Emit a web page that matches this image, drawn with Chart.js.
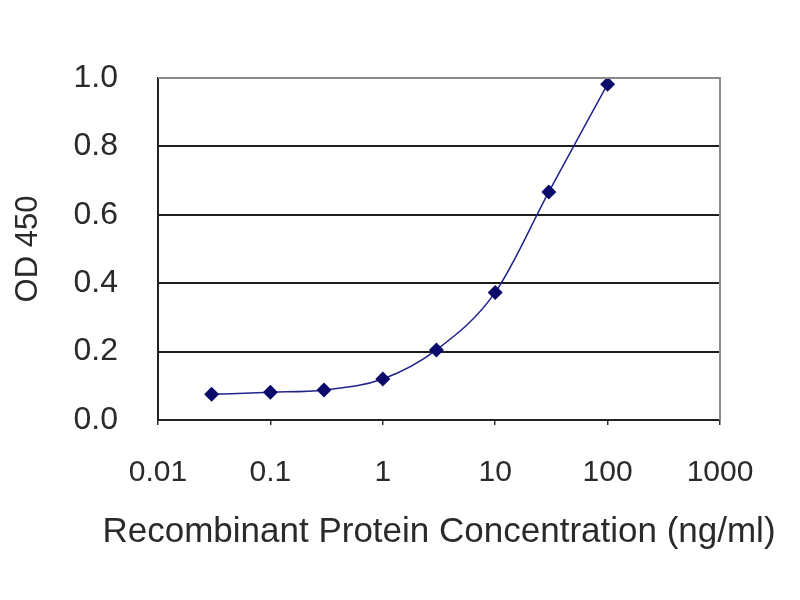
<!DOCTYPE html>
<html>
<head>
<meta charset="utf-8">
<script src="https://cdn.jsdelivr.net/npm/chart.js@4"></script>
<style>
  html, body { margin: 0; padding: 0; background: #ffffff; }
  #wrap { width: 800px; height: 600px; }
</style>
</head>
<body>
<div id="wrap"><canvas id="c" width="800" height="600"></canvas></div>
<script>
const concentrations = [0.03, 0.1, 0.3, 1, 3, 10, 30, 100];
const odValues = [0.075, 0.081, 0.088, 0.120, 0.205, 0.373, 0.667, 0.982];
const xTickValues = [0.01, 0.1, 1, 10, 100, 1000];
const xTickLabels = ['0.01', '0.1', '1', '10', '100', '1000'];
const yTickValues = [0, 0.2, 0.4, 0.6, 0.8, 1.0];
const yTickLabels = ['0.0', '0.2', '0.4', '0.6', '0.8', '1.0'];
const xTitle = 'Recombinant Protein Concentration (ng/ml)';
const yTitle = 'OD 450';

const FONT = '"Liberation Sans", Arial, Helvetica, sans-serif';
const points = concentrations.map((x, i) => ({ x: x, y: odValues[i] }));

const borderPlugin = {
  id: 'plotBorder',
  afterDatasetsDraw(chart) {
    const a = chart.chartArea, ctx = chart.ctx;
    ctx.save();
    ctx.strokeStyle = '#8a8a8a';
    ctx.lineWidth = 2;
    ctx.beginPath();
    ctx.moveTo(a.left, a.top);
    ctx.lineTo(a.right, a.top);
    ctx.lineTo(a.right, a.bottom);
    ctx.stroke();
    ctx.restore();
  }
};

// x-axis title drawn without Chart.js's maxWidth compression (it is wider than the plot)
const xTitlePlugin = {
  id: 'xTitleWide',
  afterDraw(chart) {
    const s = chart.scales.x, ctx = chart.ctx;
    ctx.save();
    ctx.fillStyle = '#2a2a2a';
    ctx.font = '35px ' + FONT;
    ctx.textAlign = 'center';
    ctx.textBaseline = 'alphabetic';
    ctx.fillText(xTitle, (s.left + s.right) / 2, s.top + 122);
    ctx.restore();
  }
};

new Chart(document.getElementById('c'), {
  type: 'line',
  data: {
    datasets: [{
      data: points,
      borderColor: '#22228a',
      backgroundColor: '#0a0a6a',
      borderWidth: 1.5,
      pointStyle: 'rectRot',
      pointRadius: 7.5,
      pointHoverRadius: 7.5,
      pointBorderWidth: 0,
      cubicInterpolationMode: 'monotone',
      fill: false
    }]
  },
  options: {
    responsive: false,
    animation: false,
    events: [],
    layout: { padding: { top: 78, right: 80, left: 0, bottom: 0 } },
    plugins: { legend: { display: false }, tooltip: { enabled: false } },
    scales: {
      x: {
        type: 'logarithmic',
        min: 0.01,
        max: 1000,
        afterBuildTicks(scale) { scale.ticks = xTickValues.map(v => ({ value: v })); },
        afterFit(scale) { scale.height = 180; },
        ticks: {
          autoSkip: false,
          maxRotation: 0,
          padding: 30,
          color: '#2a2a2a',
          font: { family: FONT, size: 30 },
          callback(value) {
            const i = xTickValues.findIndex(v => Math.abs(v - value) < v * 1e-6);
            return i >= 0 ? xTickLabels[i] : '';
          }
        },
        grid: { drawOnChartArea: false, drawTicks: true, tickLength: 5, color: '#333333', lineWidth: 1.5 },
        border: { display: true, color: '#222222', width: 2 },
        title: { display: false, text: xTitle }
      },
      y: {
        type: 'linear',
        min: 0,
        max: 1.0,
        afterBuildTicks(scale) { scale.ticks = yTickValues.map(v => ({ value: v })); },
        afterFit(scale) { scale.width = 158; },
        ticks: {
          padding: 40,
          color: '#2a2a2a',
          font: { family: FONT, size: 32 },
          callback(value) {
            const i = yTickValues.findIndex(v => Math.abs(v - value) < 1e-6);
            return i >= 0 ? yTickLabels[i] : '';
          }
        },
        grid: {
          drawTicks: false,
          color: (ctx) => (ctx.tick && ctx.tick.value >= 0.999) ? '#8a8a8a' : '#1e1e1e',
          lineWidth: 2
        },
        border: { display: true, color: '#222222', width: 2 },
        title: {
          display: true,
          text: yTitle,
          color: '#2a2a2a',
          font: { family: FONT, size: 31 },
          padding: { top: 10, bottom: 0 }
        }
      }
    }
  },
  plugins: [borderPlugin, xTitlePlugin]
});
</script>
</body>
</html>
